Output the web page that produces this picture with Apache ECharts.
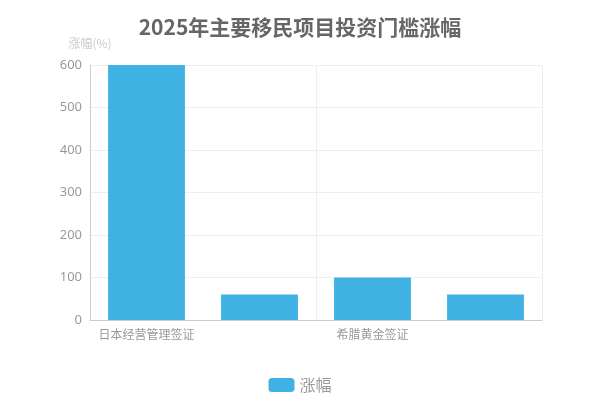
<!DOCTYPE html>
<html><head><meta charset="utf-8">
<script src="https://cdn.jsdelivr.net/npm/echarts@6/dist/echarts.min.js"></script>
<style>html,body{margin:0;padding:0;background:#fff}#c{width:600px;height:400px}</style>
</head><body><div id="c"></div>
<script>
const categories = ['日本经营管理签证', '', '希腊黄金签证', ''];
const seriesName = '涨幅';
const values = [600, 60, 100, 60];
const titleText = '2025年主要移民项目投资门槛涨幅';
const yName = '涨幅(%)';

const chart = echarts.init(document.getElementById('c'));
chart.setOption({
  animation: false,
  title: {text: titleText, left: 'center', top: 12,
    textStyle: {fontSize: 21, fontWeight: 'bold', color: '#666', fontFamily: 'Noto Sans CJK SC'}},
  legend: {bottom: 2, left: 'center', itemWidth: 26, itemHeight: 14, itemGap: 6,
    textStyle: {fontSize: 16, color: '#999', fontFamily: 'Noto Sans CJK SC'},
    data: [seriesName]},
  grid: {left: 90, right: 58, top: 65, bottom: 80},
  xAxis: {type: 'category', data: categories,
    axisLine: {lineStyle: {color: '#ccc'}}, axisTick: {show: false},
    axisLabel: {interval: 1, color: '#999', fontSize: 12, fontFamily: 'Noto Sans CJK SC'},
    splitLine: {show: true, interval: 1, lineStyle: {color: '#eee'}}},
  yAxis: {type: 'value', min: 0, max: 600, interval: 100, name: yName,
    nameTextStyle: {color: '#ccc', fontSize: 12, fontFamily: 'Noto Sans CJK SC'},
    nameGap: 16,
    axisLine: {show: true, lineStyle: {color: '#ccc'}}, axisTick: {show: false},
    axisLabel: {color: '#999', fontSize: 13, fontFamily: 'Noto Sans'},
    splitLine: {lineStyle: {color: '#eee'}}},
  series: [{name: seriesName, type: 'bar', data: values, barWidth: '68%',
    itemStyle: {color: '#3fb1e3'}}]
});
</script></body></html>
